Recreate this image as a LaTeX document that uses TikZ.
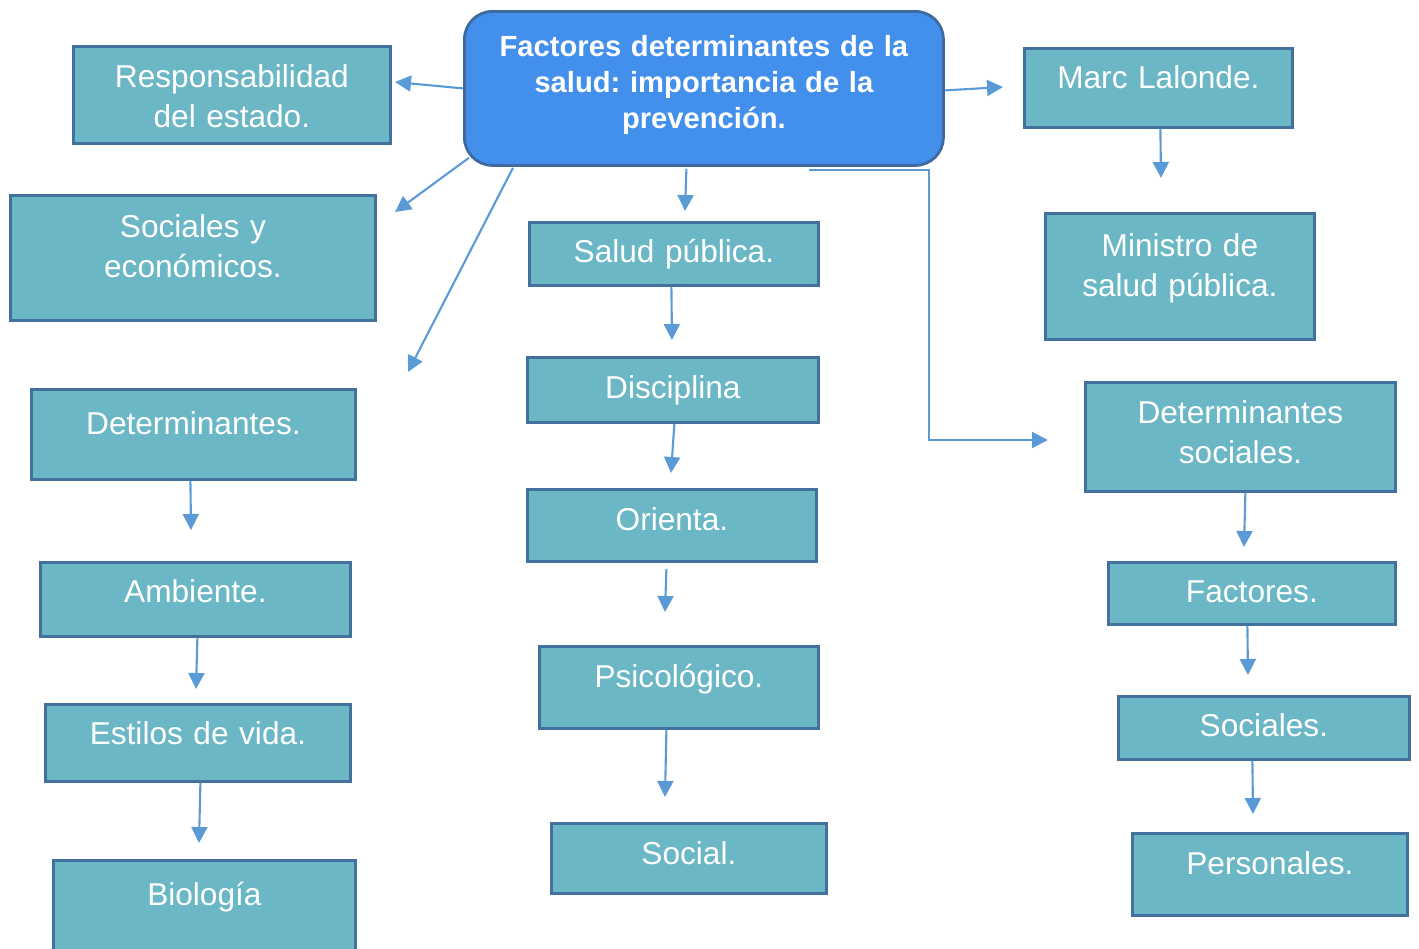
\documentclass[tikz,border=0pt]{standalone}
\usepackage{fontspec}
\setmainfont{Liberation Sans}
\usetikzlibrary{arrows.meta}

\definecolor{boxfill}{RGB}{107,183,197}
\definecolor{boxline}{RGB}{65,113,156}
\definecolor{mainfill}{RGB}{66,143,236}
\definecolor{mainline}{RGB}{62,106,160}
\definecolor{arrowc}{RGB}{91,155,213}

\tikzset{
	cbox/.style={draw=boxline, fill=boxfill, line width=0.8pt, text=white, anchor=north west, inner sep=0pt, align=center, font=\fontsize{9}{11.4}\selectfont, text height=0.41cm},
	mainbox/.style={draw=mainline, fill=mainfill, line width=0.8pt, text=white, anchor=north west, inner sep=0pt, align=center, rounded corners=0.28cm, font=\fontsize{8.3}{10.3}\selectfont\bfseries\frenchspacing, text height=0.45cm},
	arr/.style={draw=arrowc, line width=0.6pt, -{Triangle[length=0.16cm,width=0.16cm]}}
}

\begin{document}
\begin{tikzpicture}
	\useasboundingbox (0,0) rectangle (14.19,-9.49);
	%Title
		\node[mainbox, text width=4.79cm, text depth=1.09cm] (main) at (4.63,-0.10) {Factores determinantes de la\\salud: importancia de la\\prevención.};
	%Left column
		\node[cbox, text width=3.17cm, text depth=0.56cm] (resp) at (0.72,-0.45) {Responsabilidad\\del estado.};
		\node[cbox, text width=3.65cm, text depth=0.83cm, text height=0.42cm] (socyec) at (0.09,-1.94) {Sociales y\\económicos.};
		\node[cbox, text width=3.24cm, text depth=0.45cm, text height=0.45cm] (determ) at (0.30,-3.88) {Determinantes.};
		\node[cbox, text width=3.10cm, text depth=0.34cm, text height=0.40cm] (ambiente) at (0.39,-5.61) {Ambiente.};
		\node[cbox, text width=3.05cm, text depth=0.37cm, text height=0.40cm] (estilos) at (0.44,-7.03) {Estilos de vida.};
		\node[cbox, text width=3.02cm, text depth=0.65cm, text height=0.45cm] (biologia) at (0.52,-8.59) {Biología};
	%Middle column
		\node[cbox, text width=2.89cm, text depth=0.23cm, text height=0.40cm] (salud) at (5.28,-2.21) {Salud pública.};
		\node[cbox, text width=2.91cm, text depth=0.24cm] (disciplina) at (5.26,-3.56) {Disciplina};
		\node[cbox, text width=2.89cm, text depth=0.31cm] (orienta) at (5.26,-4.88) {Orienta.};
		\node[cbox, text width=2.79cm, text depth=0.41cm] (psico) at (5.38,-6.45) {Psicológico.};
		\node[cbox, text width=2.75cm, text depth=0.29cm] (social) at (5.50,-8.22) {Social.};
	%Right column
		\node[cbox, text width=2.68cm, text depth=0.39cm, text height=0.40cm] (marc) at (10.23,-0.47) {Marc Lalonde.};
		\node[cbox, text width=2.69cm, text depth=0.83cm, text height=0.43cm] (ministro) at (10.44,-2.12) {Ministro de\\salud pública.};
		\node[cbox, text width=3.10cm, text depth=0.68cm] (detsoc) at (10.84,-3.81) {Determinantes\\sociales.};
		\node[cbox, text width=2.87cm, text depth=0.22cm, text height=0.40cm] (factores) at (11.07,-5.61) {Factores.};
		\node[cbox, text width=2.91cm, text depth=0.23cm, text height=0.40cm] (sociales) at (11.17,-6.95) {Sociales.};
		\node[cbox, text width=2.75cm, text depth=0.41cm] (personales) at (11.31,-8.32) {Personales.};
	%Free arrow ends
		\coordinate (respIn) at (3.95,-0.82);
		\coordinate (socyecIn) at (3.95,-2.12);
		\coordinate (determIn) at (4.08,-3.72);
		\coordinate (saludIn) at (6.85,-2.11);
		\coordinate (detsocIn) at (10.48,-4.40);
		\coordinate (marcIn) at (10.03,-0.87);
		\coordinate (ministroIn) at (11.61,-1.78);
		\coordinate (ambienteIn) at (1.91,-5.30);
		\coordinate (estilosIn) at (1.96,-6.89);
		\coordinate (biologiaIn) at (1.99,-8.43);
		\coordinate (disciplinaIn) at (6.72,-3.40);
		\coordinate (orientaIn) at (6.71,-4.73);
		\coordinate (psicoIn) at (6.65,-6.12);
		\coordinate (socialIn) at (6.65,-7.97);
		\coordinate (factoresIn) at (12.44,-5.47);
		\coordinate (socialesIn) at (12.48,-6.75);
		\coordinate (personalesIn) at (12.53,-8.14);
	%Title->branches
		\draw[arr] (main.west) -- (respIn);
		\draw[arr] ([xshift=0.06cm,yshift=0.09cm]main.south west) -- (socyecIn);
		\draw[arr] ([xshift=0.50cm,yshift=-0.01cm]main.south west) -- (determIn);
		\draw[arr] ([xshift=-0.175cm,yshift=-0.02cm]main.south) -- (saludIn);
		\draw[arr] ([xshift=1.055cm,yshift=-0.03cm]main.south) -- ++(1.2,0) |- (detsocIn);
		\draw[arr] ([yshift=-0.02cm]main.east) -- (marcIn);
	%Left chain
		\draw[arr] ([xshift=-0.03cm]determ.south) -- (ambienteIn);
		\draw[arr] ([xshift=0.02cm]ambiente.south) -- (estilosIn);
		\draw[arr] ([xshift=0.025cm]estilos.south) -- (biologiaIn);
	%Middle chain
		\draw[arr] ([xshift=-0.025cm]salud.south) -- (disciplinaIn);
		\draw[arr] ([xshift=0.015cm]disciplina.south) -- (orientaIn);
		\draw[arr] ([xshift=-0.055cm,yshift=-0.06cm]orienta.south) -- (psicoIn);
		\draw[arr] ([xshift=-0.125cm]psico.south) -- (socialIn);
	%Right chain
		\draw[arr] ([xshift=0.02cm]marc.south) -- (ministroIn);
		\draw[arr] ([xshift=0.05cm]detsoc.south) -- (factoresIn);
		\draw[arr] ([xshift=-0.045cm]factores.south) -- (socialesIn);
		\draw[arr] ([xshift=-0.115cm]sociales.south) -- (personalesIn);
\end{tikzpicture}
\end{document}
